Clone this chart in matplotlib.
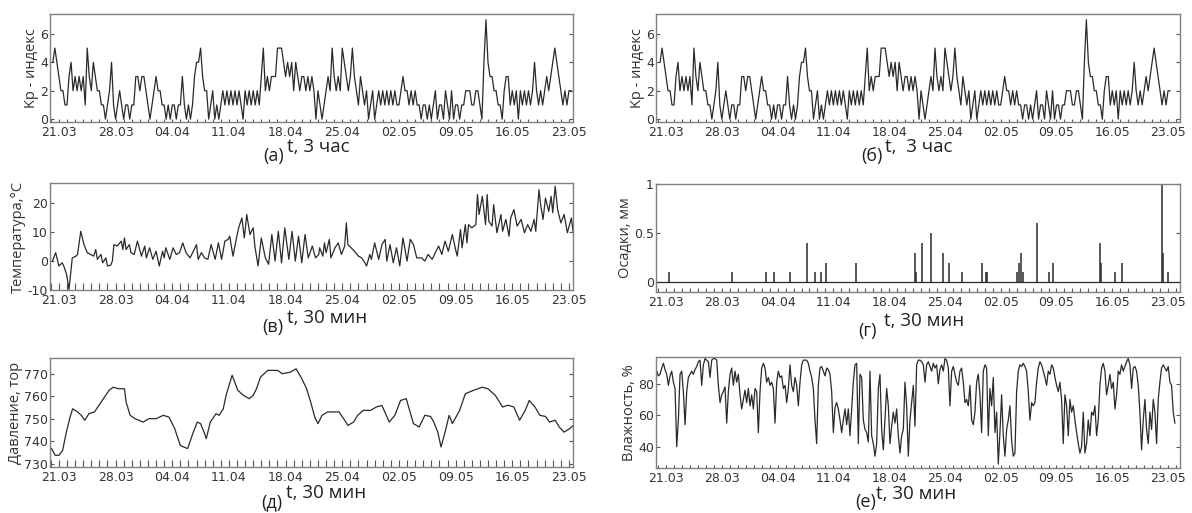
import numpy as np
import matplotlib
matplotlib.use("Agg")
import matplotlib.pyplot as plt
from matplotlib.ticker import MultipleLocator

# x axis: days from 21.03
tick_days = [0, 7, 14, 21, 28, 35, 42, 49, 56, 63]
tick_labels = ['21.03', '28.03', '04.04', '11.04', '18.04',
               '25.04', '02.05', '09.05', '16.05', '23.05']

# Kp index, 6-hour steps starting at day -0.75
kp_start, kp_step = -0.75, 0.25
kp = [4,
      5, 4, 3, 2,  2, 1, 1, 3,  4, 2, 3, 2,  3, 2, 3, 1,  5, 3, 2, 4,
      3, 2, 2, 1,  1, 0, 1, 2,  4, 1, 0, 1,  2, 1, 0, 1,  1, 0, 1, 1,
      3, 3, 2, 3,  3, 2, 1, 0,  1, 2, 3, 2,  2, 1, 1, 0,  1, 0, 1, 1,
      0, 1, 1, 3,  1, 0, 1, 0,  1, 3, 4, 4,  5, 3, 2, 2,  0, 1, 2, 0,
      1, 0, 1, 2,  1, 2, 1, 2,  1, 2, 1, 2,  1, 0, 2, 1,  2, 1, 2, 1,
      2, 1, 3, 5,  2, 3, 2, 3,  3, 3, 5, 5,  5, 4, 3, 4,  3, 4, 2, 4,
      3, 2, 3, 3,  2, 3, 2, 3,  2, 0, 2, 1,  0, 1, 2, 3,  2, 5, 3, 2,
      3, 2, 5, 4,  3, 2, 3, 5,  3, 2, 1, 3,  2, 1, 2, 0,  1, 2, 0, 1,
      2, 1, 2, 1,  2, 1, 2, 1,  2, 1, 1, 2,  3, 2, 2, 1,  2, 1, 2, 1,
      1, 0, 1, 1,  0, 1, 0, 1,  2, 0, 1, 1,  0, 2, 1, 0,  2, 0, 1, 1,
      0, 1, 1, 2,  2, 2, 1, 1,  2, 2, 1, 0,  4, 7, 4, 3,  3, 2, 2, 1,
      1, 0, 2, 3,  3, 1, 2, 1,  2, 0, 2, 1,  2, 1, 2, 1,  2, 4, 2, 1,
      2, 1, 2, 3,  2, 3, 4, 5,  4, 3, 2, 1,  2, 1, 2, 2]

# temperature, deg C
temp_day = [-0.8, -0.4, 0.0, 0.4, 0.6, 0.95, 1.25, 1.65, 2.1, 2.3, 2.7, 3.1, 3.5, 3.9,
            4.3, 4.55, 4.75, 5.2, 5.4, 5.8, 6.0, 6.4, 6.6, 6.8, 7.2, 7.7, 7.9, 8.1,
            8.3, 8.7, 8.9, 9.3, 9.7, 10.2, 10.6, 10.8, 11.2, 11.6, 12.0, 12.4, 12.8,
            13.0, 13.2, 13.7, 14.1, 14.5, 14.9, 15.3, 15.7, 16.2, 17.0, 17.2, 17.6,
            18.0, 18.4, 18.8, 19.3, 19.7, 20.1, 20.5, 20.9, 21.1, 21.5, 21.9, 22.2,
            22.6, 22.9, 23.2, 23.6, 24.0, 24.2, 24.6, 25.0, 25.5, 25.9, 26.3, 26.7,
            27.1, 27.5, 27.9, 28.4, 28.8, 29.2, 29.6, 30.0, 30.4, 30.8, 31.3, 31.7,
            32.1, 32.2, 32.6, 32.8, 33.0, 33.4, 33.6, 34.1, 34.5, 34.9, 35.3, 35.5,
            35.7, 36.1, 36.5, 37.0, 37.4, 37.8, 38.0, 38.4, 38.6, 39.0, 39.5, 39.9,
            40.3, 40.5, 40.9, 41.3, 41.7, 42.1, 42.5, 43.0, 43.4, 43.8, 44.2, 44.8,
            45.2, 45.6, 46.1, 46.5, 46.9, 47.3, 47.7, 48.1, 48.6, 49.0, 49.2, 49.6,
            49.8, 50.2, 50.4, 50.6, 51.0, 51.5, 51.7, 51.9, 52.3, 52.7, 52.9, 53.1,
            53.5, 53.7, 54.1, 54.6, 54.8, 55.2, 55.6, 55.8, 56.2, 56.6, 57.1, 57.5,
            57.9, 58.3, 58.7, 58.9, 59.3, 59.5, 59.8, 60.1, 60.5, 60.8, 61.0, 61.3,
            61.6, 62.0, 62.4, 62.8, 63.3, 63.5]
temp_val = [0, 2.9, -1.7, -0.6, -1.7, -4.6, -9.8, 1.1, 1.7, 2.3, 10.3, 5.7, 2.9, 2.3,
            1.7, 4.0, 0.6, 2.3, -0.6, 1.1, -1.7, -1.4, 0, 5.7, 5.2, 6.9, 4.0, 8.0,
            4.0, 5.7, 2.9, 2.3, 6.9, 1.7, 5.2, 1.1, 4.6, 0.6, 3.4, -1.7, 3.4,
            1.1, 4.6, 0.6, 4.6, 2.3, 2.9, 6.3, 2.9, 1.1, 5.7, 0.6, 2.9,
            1.1, 0.6, 5.7, 0.6, 6.3, 0.6, 6.9, 7.5, 8.6, 1.7, 7.5, 11.5,
            14.9, 8.0, 16.1, 9.2, 11.5, 5.2, -1.7, 8.0, 1.1, -1.1, 9.2, 0,
            10.3, -0.6, 11.5, 0.6, 10.3, 0, 8.6, -0.6, 9.2, 1.1, 5.2, 1.1,
            2.3, 4.6, 1.7, 6.3, 2.9, 7.5, 1.1, 4.6, 6.3, 2.3, 5.2, 13.2,
            5.7, 4.6, 3.4, 1.7, 1.1, -0.6, -1.7, 2.3, 0.6, 6.3, 0.6, 5.7,
            7.5, 0, 5.7, -0.6, 4.6, -1.7, 8.0, 0, 7.5, 5.7, 1.1, 1.1,
            0, 2.3, 0.6, 2.9, 5.2, 2.3, 6.9, 3.4, 9.2, 4.0, 1.7, 10.9,
            4.6, 12.6, 6.3, 12.6, 11.5, 12.6, 23.0, 16.1, 22.4, 12.6, 23.0, 13.8,
            12.1, 19.5, 9.8, 16.1, 10.3, 14.4, 8.6, 14.9, 17.8, 12.1, 14.4, 9.8,
            12.6, 10.3, 14.4, 10.3, 24.7, 19.5, 14.4, 21.8, 17.2, 22.4, 16.7, 25.9,
            17.8, 13.2, 16.1, 9.8, 14.9, 10.3]

# pressure, torr
pres_day = [-0.9, -0.46, 0.0, 0.46, 0.92, 1.38, 1.7, 2.3, 2.76, 3.2, 3.7, 4.4, 4.8,
            5.5, 6.2, 6.7, 7.4, 8.1, 8.3, 8.8, 9.4, 10.4, 11.1, 12.0, 12.9, 13.6,
            14.3, 15.0, 15.4, 15.9, 16.6, 17.1, 17.5, 18.0, 18.2, 18.7, 19.4, 19.8,
            20.3, 20.7, 21.4, 22.1, 22.8, 23.5, 24.0, 24.4, 24.9, 25.8, 27.0, 27.6,
            28.6, 29.3, 30.0, 30.6, 31.1, 31.6, 32.0, 32.5, 33.2, 33.9, 34.6, 35.3,
            35.7, 36.4, 36.9, 37.6, 38.5, 39.2, 39.9, 40.8, 41.5, 42.2, 42.9, 43.8,
            44.5, 45.2, 45.9, 46.3, 46.8, 47.2, 47.7, 48.2, 48.6, 49.5, 50.2, 51.2,
            52.3, 53.0, 53.9, 54.8, 55.5, 56.2, 56.9, 57.6, 58.1, 58.8, 59.4, 60.1,
            60.6, 61.3, 61.8, 62.4, 63.1, 63.8, 64.5]
pres_val = [736.7, 733.7, 733.7, 735.9, 744.0, 750.7, 754.4, 753.0, 751.5, 749.3, 752.2,
            753.0, 755.2, 758.9, 762.6, 764.0, 763.3, 763.3, 757.4, 751.5, 750.0, 748.5,
            750.0, 750.0, 751.5, 750.7, 745.6, 738.1, 737.4, 736.7, 744.0, 748.5, 747.8,
            743.3, 741.1, 748.5, 752.2, 751.5, 754.4, 761.1, 769.3, 762.6, 760.4, 758.9,
            760.4, 763.3, 768.5, 771.5, 771.5, 770.0, 770.7, 772.2, 767.8, 763.3, 757.4,
            750.7, 747.8, 751.5, 753.0, 753.0, 753.0, 749.3, 747.0, 748.5, 751.5, 753.7,
            753.7, 755.2, 755.9, 748.5, 751.5, 758.1, 758.9, 747.8, 746.3, 751.5, 751.0,
            748.5, 744.0, 737.4, 744.0, 751.5, 747.8, 753.7, 761.1, 762.6, 764.0, 763.3,
            760.4, 755.2, 756.0, 755.2, 749.3, 753.7, 758.1, 755.2, 751.5, 751.0, 748.5,
            749.3, 746.3, 744.0, 745.6, 747.8, 748.5]

# precipitation events, mm
rain_day = [0.4, 8.3, 12.5, 13.6, 15.6, 17.7, 18.7, 19.5, 20.1, 23.8, 31.2, 31.4,
            32.1, 33.2, 34.7, 35.5, 37.1, 39.6, 40.1, 40.3, 44.1, 44.3, 44.6, 44.8,
            46.6, 48.1, 48.6, 54.4, 54.6, 56.4, 57.2, 62.2, 62.4, 63.0]
rain_val = [0.1, 0.1, 0.1, 0.1, 0.1, 0.4, 0.1, 0.1, 0.2, 0.2, 0.3, 0.1,
            0.4, 0.5, 0.3, 0.2, 0.1, 0.2, 0.1, 0.1, 0.1, 0.2, 0.3, 0.1,
            0.6, 0.1, 0.2, 0.4, 0.2, 0.1, 0.2, 1.0, 0.3, 0.1]

# relative humidity, %, uniform steps
hum_start, hum_step = -1.17, 0.2091
hum = [88, 85, 86, 90, 93, 89, 86, 79, 85, 88, 81, 77, 40, 57, 86, 88, 75, 54, 75, 84,
       86, 88, 86, 89, 91, 94, 95, 79, 92, 96, 95, 94, 84, 95, 96, 96, 95, 79, 68, 73,
       75, 78, 55, 75, 86, 90, 79, 88, 81, 86, 73, 64, 70, 76, 68, 77, 66, 73, 64, 77,
       75, 49, 75, 90, 93, 90, 81, 84, 79, 81, 77, 55, 81, 88, 84, 85, 77, 79, 68, 77,
       92, 79, 75, 84, 79, 66, 81, 92, 95, 95, 95, 93, 88, 84, 77, 57, 42, 79, 90, 91,
       88, 85, 90, 89, 86, 75, 49, 65, 68, 64, 57, 49, 57, 64, 54, 64, 47, 64, 81, 92,
       93, 42, 86, 84, 57, 51, 49, 43, 88, 47, 42, 34, 42, 77, 86, 51, 38, 57, 77, 66,
       42, 53, 62, 55, 64, 47, 36, 47, 51, 81, 66, 34, 57, 68, 79, 53, 92, 95, 95, 94,
       92,
       81, 92, 94, 91, 88, 93, 90, 92, 80, 89, 92, 88, 96, 95, 90, 66, 88, 91, 86,
       81, 79, 88, 90, 81, 68, 70, 66, 79, 57, 54, 62, 81, 86, 73, 49, 88, 92, 90, 47,
       77, 66, 84, 49, 62, 29, 49, 73, 47, 34, 51, 57, 66, 44, 34, 36, 75, 88, 92, 91,
       93, 91, 88, 75, 57, 68, 66, 68, 81, 90, 94, 92, 88, 84, 79, 88, 86, 92, 90, 84,
       79, 75, 81, 70, 42, 73, 66, 47, 70, 62, 66, 57, 49, 42, 36, 40, 62, 36, 42, 57,
       47, 62, 60, 66, 47, 57, 79, 90, 93, 88, 73, 79, 86, 77, 81, 64, 73, 88, 86, 92,
       88, 91, 94, 96, 92, 77, 90, 91, 88, 79, 62, 38, 57, 70, 51, 42, 62, 51, 70, 62,
       42, 70, 81, 90, 92, 90, 88, 91, 81, 79, 62, 55]

W, H = 1192, 513
fig = plt.figure(figsize=(W / 100, H / 100), dpi=100)

def box(x0, y0, x1, y1):
    return [x0 / W, 1 - y1 / H, (x1 - x0) / W, (y1 - y0) / H]

line_c = '#2a2a2a'
spine_c = '#808080'
tick_font = dict(family=['Liberation Sans Narrow', 'DejaVu Sans'], size=9, color='#333333')
lab_font = dict(family=['Open Sans', 'DejaVu Sans'], size=10.5, color='#333333')
left_lim = (-1.1, 63.5)
right_lim = (-1.26, 64.5)

def setup(ax, xlim, ylim, yticks, ylabel, minor_len):
    ax.set_xlim(*xlim)
    ax.set_ylim(*ylim)
    ax.set_xticks(tick_days)
    ax.set_xticklabels(tick_labels, **tick_font)
    ax.xaxis.set_minor_locator(MultipleLocator(1))
    ax.set_yticks(yticks)
    ax.set_yticklabels([str(v) for v in yticks], **tick_font)
    ax.tick_params(axis='both', which='both', direction='in', color='#555555', width=0.8)
    ax.tick_params(axis='x', which='major', length=minor_len, pad=3)
    ax.tick_params(axis='x', which='minor', length=minor_len)
    ax.tick_params(axis='y', which='major', length=3, right=True, pad=1.5)
    for s in ax.spines.values():
        s.set_color(spine_c)
        s.set_linewidth(1.0)
    ax.set_ylabel(ylabel, labelpad=1, **lab_font)

# (а) and (б): Kp index
kp_t = kp_start + kp_step * np.arange(len(kp))
for x0, x1, lim in [(50, 573, left_lim), (656, 1180, right_lim)]:
    ax = fig.add_axes(box(x0, 14, x1, 122))
    ax.plot(kp_t, kp, color=line_c, lw=0.9)
    setup(ax, lim, (-0.2, 7.4), [0, 2, 4, 6], 'Kp - индекс', 2)

# (в) temperature
ax = fig.add_axes(box(50, 183, 573, 290))
ax.plot(temp_day, temp_val, color=line_c, lw=0.9)
setup(ax, left_lim, (-10, 27), [-10, 0, 10, 20], 'Температура,°C', 5)

# (г) precipitation
ax = fig.add_axes(box(656, 184, 1180, 292))
ax.axhline(0, color=line_c, lw=0.9)
ax.vlines(rain_day, 0, rain_val, color=line_c, lw=1.1)
setup(ax, right_lim, (-0.1, 1.0), [0, 0.5, 1], 'Осадки, мм', 3)
ax.set_yticklabels(['0', '0.5', '1'], **tick_font)

# (д) pressure
ax = fig.add_axes(box(50, 358, 573, 467))
ax.plot(pres_day, pres_val, color=line_c, lw=0.9)
setup(ax, left_lim, (728.5, 777), [730, 740, 750, 760, 770], 'Давление, тор', 5)

# (е) humidity
hum_t = hum_start + hum_step * np.arange(len(hum))
ax = fig.add_axes(box(656, 357, 1180, 468))
ax.plot(hum_t, hum, color=line_c, lw=0.9)
setup(ax, right_lim, (26.5, 97), [40, 60, 80], 'Влажность, %', 2)

# captions under each panel: letter, then the time step slightly higher
cap = dict(family=['Open Sans', 'DejaVu Sans'], color='#222222')
captions = [
    (263, 156, '(а)', 287, 147, 't, 3 час'),
    (861, 156, '(б)', 885, 147, 't,  3 час'),
    (262, 327, '(в)', 287, 318, 't, 30 мин'),
    (858, 331, '(г)', 884, 321, 't, 30 мин'),
    (261, 502, '(д)', 286, 493, 't, 30 мин'),
    (855, 502, '(е)', 876, 494, 't, 30 мин'),
]
for lx, ly, lab, tx, ty, txt in captions:
    fig.text(lx / W, 1 - ly / H, lab, fontsize=13, ha='left', va='center', **cap)
    fig.text(tx / W, 1 - ty / H, txt, fontsize=13.5, ha='left', va='center', **cap)

fig.savefig('out.png', dpi=100)
